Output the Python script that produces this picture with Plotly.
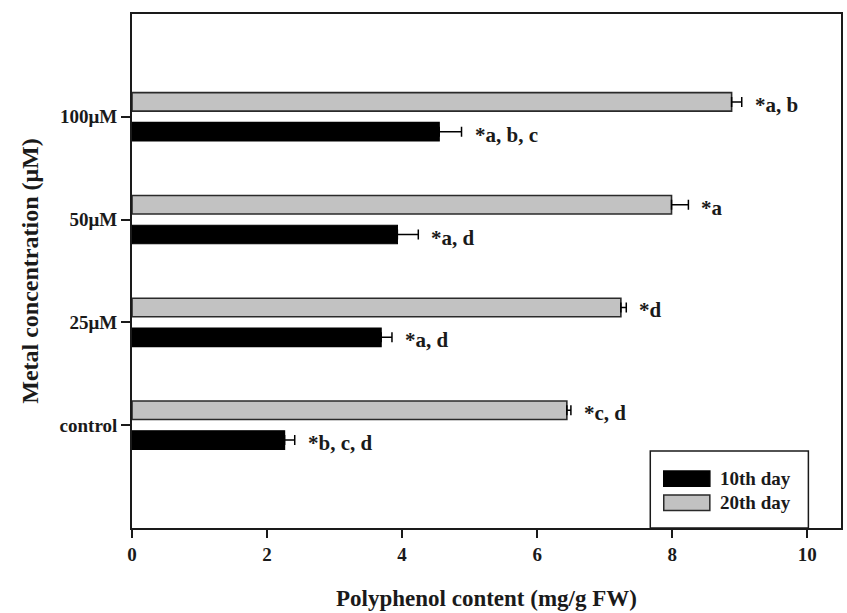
import plotly.graph_objects as go

# Metal treatment levels (bottom to top)
categories = ["control", "25μM", "50μM", "100μM"]

# Polyphenol content (mg/g FW) and standard errors
day10_values = [2.26, 3.69, 3.93, 4.55]
day10_errors = [0.15, 0.16, 0.31, 0.33]
day20_values = [6.44, 7.24, 7.99, 8.88]
day20_errors = [0.06, 0.08, 0.25, 0.15]

# Significance letters shown next to each bar
day10_labels = ["*b, c, d", "*a, d", "*a, d", "*a, b, c"]
day20_labels = ["*c, d", "*d", "*a", "*a, b"]

x_ticks = [0, 2, 4, 6, 8, 10]

FONT = "Liberation Serif"
INK = "#1a1a1a"

fig = go.Figure()

fig.add_trace(go.Bar(
    y=categories, x=day10_values, orientation="h", name="10th day",
    marker=dict(color="black", line=dict(color="black", width=1.2)),
    error_x=dict(type="data", array=day10_errors, arrayminus=[0] * len(day10_errors),
                 symmetric=False, color="black", thickness=1.5, width=5),
))
fig.add_trace(go.Bar(
    y=categories, x=day20_values, orientation="h", name="20th day",
    marker=dict(color="#c2c2c2", line=dict(color="#2a2a2a", width=1.6)),
    error_x=dict(type="data", array=day20_errors, arrayminus=[0] * len(day20_errors),
                 symmetric=False, color="black", thickness=1.5, width=5),
))

bargap, bargroupgap = 0.42, 0.38
offset = (1 - bargap) / 4

annotations = []
for i, cat in enumerate(categories):
    for vals, errs, labels, sign in ((day10_values, day10_errors, day10_labels, -1),
                                     (day20_values, day20_errors, day20_labels, 1)):
        annotations.append(dict(
            x=vals[i] + errs[i], y=i + sign * offset, xref="x", yref="y",
            text=labels[i], showarrow=False, xanchor="left", yanchor="middle",
            xshift=11, yshift=-3,
            font=dict(family=FONT, size=21, color=INK, weight="bold"),
        ))

# Legend box drawn in the lower-right corner of the plot area
legend_items = [("10th day", "black", "black"), ("20th day", "#c2c2c2", "#2a2a2a")]
shapes = [dict(type="rect", xref="paper", yref="paper", x0=0.731, x1=0.954, y0=0.0, y1=0.150,
               line=dict(color=INK, width=1.5), fillcolor="white")]
for k, (name, fill, edge) in enumerate(legend_items):
    yc = 0.096 - k * 0.047
    shapes.append(dict(type="rect", xref="paper", yref="paper", x0=0.750, x1=0.815,
                       y0=yc - 0.015, y1=yc + 0.015,
                       line=dict(color=edge, width=1.5), fillcolor=fill))
    annotations.append(dict(x=0.826, y=yc, xref="paper", yref="paper", text=name,
                            showarrow=False, xanchor="left", yanchor="middle",
                            font=dict(family=FONT, size=19, color=INK, weight="bold")))

fig.update_layout(
    width=847, height=613,
    margin=dict(l=132, r=4, t=14, b=85),
    paper_bgcolor="white", plot_bgcolor="white",
    barmode="group", bargap=bargap, bargroupgap=bargroupgap,
    showlegend=False,
    font=dict(family=FONT, color=INK),
    annotations=annotations,
    shapes=shapes,
)
fig.update_xaxes(
    range=[0, 10.5], tickvals=x_ticks, ticktext=[str(t) for t in x_ticks],
    showgrid=False, zeroline=False,
    showline=True, linecolor=INK, linewidth=1.8, mirror=True,
    ticks="outside", ticklen=8, tickwidth=1.5, tickcolor=INK,
    tickfont=dict(family=FONT, size=19, color=INK, weight="bold"),
    title=dict(text="Polyphenol content (mg/g FW)", standoff=26,
               font=dict(family=FONT, size=23, color=INK, weight="bold")),
)
fig.update_yaxes(
    type="category", categoryorder="array", categoryarray=categories,
    range=[-1, 4],
    showgrid=False, zeroline=False,
    showline=True, linecolor=INK, linewidth=1.8, mirror=True,
    ticks="outside", ticklen=9, tickwidth=1.5, tickcolor=INK,
    tickfont=dict(family=FONT, size=19, color=INK, weight="bold"),
    title=dict(text="Metal concentration (μM)", standoff=14,
               font=dict(family=FONT, size=24, color=INK, weight="bold")),
)

fig.write_html("out.html")
